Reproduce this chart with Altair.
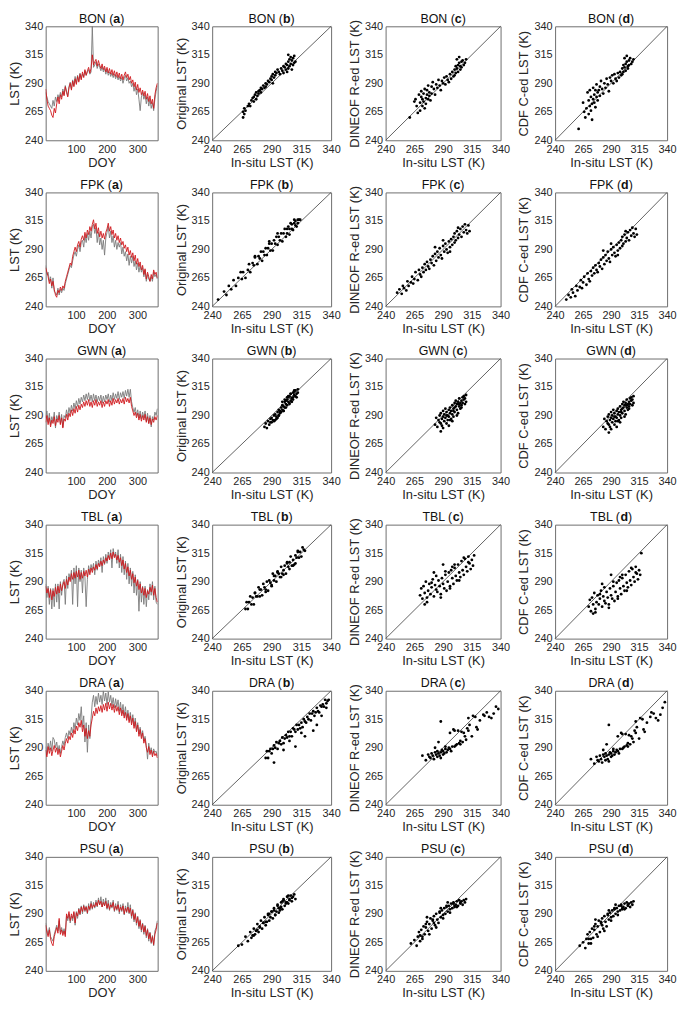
import altair as alt
import pandas as pd

SITES = ["BON", "FPK", "GWN", "TBL", "DRA", "PSU"]
DOY = list(range(1, 366, 4))

# ---------------- time series (grey = in-situ, red = reconstructed) ----------------
BON_GREY = [282, 278, 274, 272, 270, 268, 275, 270, 278, 274,
            280, 276, 282, 278, 285, 280, 288, 283, 279, 287,
            291, 285, 293, 288, 296, 290, 297, 292, 299, 294,
            298, 296, 301, 297, 300, 302, 298, 300, 340, 304,
            306, 309, 303, 307, 304, 301, 305, 300, 303, 298,
            302, 297, 300, 296, 299, 295, 298, 294, 297, 293,
            296, 292, 295, 290, 294, 297, 292, 295, 290, 292,
            287, 290, 283, 288, 280, 285, 276, 266, 278, 282,
            276, 280, 272, 278, 270, 276, 268, 273, 266, 276,
            283, 288]
BON_RED = [285, 276, 270, 268, 266, 262, 260, 268, 264, 272,
           278, 272, 280, 276, 283, 279, 287, 282, 278, 286,
           290, 284, 292, 287, 294, 289, 296, 291, 298, 293,
           300, 295, 302, 297, 301, 304, 299, 303, 315, 306,
           309, 311, 305, 310, 306, 303, 307, 302, 305, 300,
           304, 299, 303, 298, 302, 297, 301, 296, 300, 295,
           299, 294, 298, 293, 297, 300, 295, 298, 293, 296,
           290, 293, 287, 291, 284, 289, 282, 286, 280, 284,
           279, 283, 276, 281, 274, 279, 272, 276, 268, 280,
           286, 290]
FPK_GREY = [276, 268, 270, 262, 266, 256, 265, 253, 252, 250,
            256, 250, 255, 252, 256, 254, 260, 264, 268, 272,
            276, 274, 280, 285, 288, 284, 290, 294, 288, 296,
            298, 292, 302, 296, 304, 298, 306, 300, 310, 312,
            304, 309, 296, 305, 294, 300, 290, 298, 285, 300,
            305, 310, 300, 306, 296, 302, 292, 298, 290, 296,
            292, 296, 286, 292, 284, 288, 280, 286, 276, 284,
            278, 284, 275, 280, 272, 278, 270, 276, 270, 274,
            266, 272, 262, 268, 264, 262, 266, 262, 270, 266,
            268, 264]
FPK_RED = [274, 270, 266, 260, 264, 258, 262, 255, 250, 248,
           254, 252, 257, 254, 258, 256, 262, 266, 270, 274,
           278, 276, 284, 288, 292, 288, 294, 297, 292, 299,
           302, 298, 305, 300, 307, 303, 310, 306, 312, 316,
           308, 313, 304, 309, 301, 306, 300, 304, 299, 305,
           308, 313, 306, 310, 303, 307, 300, 304, 298, 302,
           296, 300, 294, 297, 291, 294, 288, 292, 285, 289,
           283, 287, 280, 285, 277, 282, 275, 279, 272, 276,
           268, 273, 264, 270, 266, 262, 268, 264, 272, 268,
           270, 265]
GWN_GREY = [288, 294, 284, 292, 282, 289, 285, 293, 279, 290,
            286, 293, 283, 291, 280, 290, 288, 295, 289, 297,
            292, 299, 294, 301, 296, 303, 298, 305, 300, 306,
            302, 308, 303, 309, 304, 310, 303, 308, 302, 309,
            303, 308, 302, 307, 303, 308, 301, 307, 302, 308,
            304, 309, 302, 308, 303, 310, 304, 309, 305, 311,
            304, 310, 306, 311, 305, 312, 307, 313, 306, 313,
            302, 297, 293, 297, 290, 295, 288, 294, 287, 293,
            288, 294, 285, 292, 283, 290, 280, 289, 286, 293,
            290, 296]
GWN_RED = [284, 290, 282, 288, 280, 286, 283, 289, 281, 287,
           284, 290, 282, 288, 279, 287, 285, 291, 286, 292,
           289, 295, 290, 296, 292, 298, 293, 299, 295, 300,
           297, 302, 298, 303, 299, 304, 298, 302, 297, 303,
           299, 304, 298, 302, 299, 303, 297, 302, 298, 303,
           300, 304, 298, 303, 299, 305, 300, 304, 301, 305,
           300, 304, 301, 305, 300, 306, 302, 305, 301, 306,
           298, 294, 290, 293, 288, 292, 286, 291, 285, 290,
           286, 291, 284, 289, 283, 288, 282, 287, 284, 289,
           286, 290]
TBL_GREY = [288, 276, 286, 270, 284, 266, 284, 268, 288, 272,
            288, 266, 290, 278, 289, 292, 270, 295, 284, 297,
            292, 300, 270, 302, 288, 304, 268, 302, 290, 300,
            280, 302, 294, 268, 292, 304, 298, 305, 300, 306,
            296, 308, 300, 309, 304, 311, 298, 312, 305, 314,
            306, 316, 310, 318, 302, 319, 312, 316, 306, 318,
            302, 314, 298, 312, 296, 308, 292, 306, 288, 302,
            286, 299, 280, 296, 278, 292, 264, 290, 272, 286,
            270, 286, 268, 283, 274, 288, 278, 290, 274, 286,
            272, 270]
TBL_RED = [286, 280, 284, 276, 283, 274, 282, 277, 285, 279,
           286, 280, 288, 282, 287, 290, 284, 292, 287, 294,
           290, 297, 292, 298, 293, 299, 294, 300, 292, 298,
           293, 299, 295, 300, 294, 301, 296, 302, 298, 303,
           300, 305, 301, 306, 303, 308, 304, 309, 306, 311,
           308, 313, 309, 315, 310, 316, 311, 314, 309, 313,
           307, 311, 304, 309, 301, 306, 298, 303, 295, 300,
           292, 297, 289, 294, 286, 291, 283, 288, 280, 285,
           278, 284, 276, 282, 279, 285, 281, 287, 278, 284,
           276, 272]
DRA_GREY = [291, 284, 294, 288, 296, 287, 299, 297, 290, 295,
            287, 292, 285, 291, 296, 292, 299, 303, 298, 305,
            301, 308, 303, 312, 306, 316, 310, 320, 314, 326,
            308, 318, 295, 312, 286, 310, 298, 316, 330, 336,
            326, 335, 328, 338, 330, 336, 328, 340, 331, 338,
            328, 339, 330, 336, 327, 334, 325, 333, 326, 332,
            322, 330, 320, 328, 318, 326, 316, 323, 314, 321,
            312, 319, 309, 316, 306, 312, 302, 308, 300, 305,
            296, 300, 292, 280, 294, 286, 290, 284, 289, 286,
            287, 283]
DRA_RED = [288, 282, 291, 285, 290, 283, 288, 292, 286, 290,
           284, 289, 282, 287, 292, 288, 294, 298, 294, 300,
           297, 303, 299, 306, 302, 309, 305, 312, 308, 314,
           304, 310, 300, 307, 298, 305, 300, 310, 316, 322,
           318, 325, 320, 326, 322, 327, 321, 328, 323, 329,
           322, 330, 324, 329, 323, 328, 321, 327, 322, 326,
           319, 325, 318, 323, 316, 321, 314, 320, 312, 318,
           310, 316, 307, 313, 304, 310, 300, 306, 298, 303,
           294, 298, 290, 286, 291, 284, 288, 282, 287, 283,
           285, 281]
PSU_GREY = [282, 276, 272, 278, 270, 268, 266, 272, 276, 280,
            275, 284, 274, 278, 273, 277, 272, 288, 284, 290,
            282, 288, 284, 291, 280, 292, 286, 295, 289, 297,
            290, 298, 292, 297, 290, 299, 293, 301, 294, 300,
            295, 302, 296, 304, 298, 305, 296, 303, 297, 304,
            294, 302, 293, 300, 295, 302, 292, 299, 293, 301,
            290, 298, 292, 299, 289, 297, 291, 300, 290, 298,
            286, 294, 283, 291, 280, 288, 277, 285, 274, 282,
            272, 280, 269, 277, 266, 274, 264, 271, 262, 275,
            278, 284]
PSU_RED = [280, 274, 270, 276, 268, 264, 262, 270, 274, 278,
           273, 286, 272, 276, 271, 275, 270, 290, 286, 292,
           284, 290, 286, 292, 282, 291, 288, 294, 290, 296,
           292, 297, 293, 296, 291, 297, 294, 299, 295, 298,
           296, 300, 297, 302, 298, 301, 296, 300, 297, 301,
           295, 299, 294, 298, 296, 300, 293, 297, 294, 298,
           292, 296, 293, 297, 290, 295, 292, 296, 291, 295,
           288, 293, 285, 290, 282, 287, 279, 284, 276, 281,
           274, 279, 271, 276, 268, 273, 265, 270, 263, 272,
           276, 282]

# ---------------- scatter: (b) original vs in-situ ----------------
BON_B_X = [266, 266, 267, 267, 268, 270, 271, 272, 273, 274, 275, 275, 276, 277, 277, 278, 279, 279, 280, 281,
           281, 282, 283, 284, 285, 285, 286, 287, 288, 289, 290, 290, 291, 291, 292, 293, 293, 294, 295, 296,
           297, 298, 299, 300, 300, 301, 302, 302, 303, 303, 304, 304, 305, 305, 306, 306, 307, 307, 308, 308,
           309, 309, 310, 304]
BON_B_Y = [260, 265, 263, 268, 266, 270, 272, 270, 275, 277, 274, 278, 280, 276, 282, 279, 283, 281, 284, 282,
           286, 285, 288, 286, 290, 287, 289, 292, 291, 294, 293, 296, 290, 298, 295, 297, 300, 299, 302, 300,
           298, 303, 301, 305, 299, 304, 307, 302, 306, 300, 309, 303, 311, 305, 313, 307, 310, 302, 312, 306,
           314, 308, 309, 315]
FPK_B_X = [245, 250, 252, 254, 256, 258, 260, 262, 264, 265, 266, 268, 270, 271, 272, 274, 275, 276, 278, 279,
           280, 281, 282, 283, 284, 285, 286, 287, 288, 289, 290, 291, 292, 293, 294, 295, 296, 297, 298, 299,
           300, 301, 302, 303, 303, 304, 305, 305, 306, 307, 307, 308, 309, 309, 310, 310, 311, 312, 312, 313,
           314, 295, 288, 276]
FPK_B_Y = [246, 253, 250, 258, 255, 263, 258, 265, 270, 264, 270, 265, 272, 277, 270, 278, 276, 283, 277, 284,
           282, 288, 280, 288, 285, 291, 285, 291, 295, 289, 295, 289, 298, 295, 301, 294, 301, 298, 304, 297,
           304, 308, 301, 308, 304, 310, 303, 308, 313, 308, 312, 307, 313, 316, 311, 315, 310, 316, 313, 316,
           316, 304, 297, 284]
GWN_B_X = [284, 285, 286, 287, 288, 289, 290, 290, 291, 292, 292, 293, 294, 294, 295, 295, 296, 296, 297, 297,
           298, 298, 299, 299, 300, 300, 301, 301, 302, 302, 303, 303, 304, 304, 305, 305, 306, 306, 307, 307,
           308, 308, 309, 309, 310, 310, 311, 311, 312, 312, 300, 302, 305, 308, 296, 293, 289, 303, 306, 309,
           299, 301, 304, 307]
GWN_B_Y = [280, 283, 279, 285, 282, 287, 284, 288, 286, 290, 285, 291, 289, 287, 293, 288, 295, 290, 294, 292,
           297, 293, 299, 295, 298, 294, 302, 297, 300, 303, 299, 304, 302, 306, 301, 307, 303, 309, 305, 302,
           310, 306, 308, 311, 307, 312, 309, 306, 313, 310, 294, 297, 300, 304, 290, 286, 284, 306, 309, 312,
           302, 304, 307, 305]
TBL_B_X = [268, 269, 270, 271, 272, 273, 274, 275, 276, 277, 278, 279, 280, 281, 282, 283, 284, 285, 286, 287,
           288, 289, 290, 291, 292, 293, 294, 295, 296, 297, 298, 299, 300, 301, 302, 303, 304, 305, 306, 307,
           308, 309, 310, 311, 312, 313, 314, 315, 316, 317, 318, 285, 290, 295, 300, 305, 310, 280, 298, 303,
           308, 276, 292, 312]
TBL_B_Y = [266, 272, 266, 272, 277, 270, 276, 270, 280, 277, 277, 285, 277, 283, 278, 288, 285, 283, 290, 282,
           291, 289, 287, 297, 291, 295, 290, 299, 297, 294, 303, 297, 300, 304, 297, 307, 303, 307, 312, 304,
           309, 305, 313, 311, 317, 311, 316, 312, 320, 318, 317, 281, 286, 298, 296, 301, 306, 283, 294, 306,
           304, 280, 295, 316]
DRA_B_X = [285, 286, 287, 288, 289, 290, 291, 292, 293, 294, 295, 296, 297, 298, 299, 300, 301, 302, 303, 304,
           305, 306, 307, 308, 309, 310, 311, 312, 313, 314, 315, 316, 317, 318, 319, 320, 321, 322, 323, 324,
           325, 326, 327, 328, 329, 330, 331, 332, 333, 334, 335, 336, 337, 338, 292, 300, 310, 318, 325, 328,
           305, 315, 332, 336]
DRA_B_Y = [281, 287, 281, 287, 289, 285, 289, 292, 290, 295, 289, 294, 296, 293, 299, 294, 298, 301, 299, 304,
           300, 304, 300, 307, 306, 304, 310, 306, 310, 307, 312, 308, 315, 313, 312, 317, 315, 320, 314, 320,
           322, 318, 321, 325, 322, 321, 327, 326, 328, 326, 332, 329, 331, 332, 277, 288, 291, 300, 305, 310,
           296, 303, 318, 325]
PSU_B_X = [262, 265, 268, 270, 272, 273, 274, 275, 276, 277, 278, 279, 280, 281, 282, 283, 284, 285, 286, 287,
           288, 289, 290, 291, 292, 293, 294, 295, 296, 297, 298, 299, 300, 301, 302, 303, 304, 305, 306, 307,
           308, 309, 310, 278, 283, 288, 293, 298, 303, 295, 300, 305, 290, 285, 280, 275, 297, 302, 307, 299,
           304, 296, 292, 287]
PSU_B_Y = [262, 263, 270, 266, 274, 269, 271, 277, 272, 275, 281, 274, 279, 284, 277, 282, 287, 280, 283, 290,
           284, 287, 292, 286, 295, 289, 292, 297, 291, 295, 300, 294, 302, 297, 300, 305, 299, 303, 306, 301,
           305, 307, 303, 276, 282, 290, 289, 296, 300, 298, 303, 302, 292, 283, 278, 271, 293, 299, 304, 301,
           306, 295, 293, 289]

# ---------------- scatter: (c) DINEOF and (d) CDF vs in-situ (same days) ----------------
BON_CD_X = [261, 265, 266, 267, 268, 269, 270, 270, 271, 271, 272, 272, 273, 273, 274, 274, 275, 275, 276, 276,
            277, 277, 278, 278, 279, 280, 280, 281, 282, 283, 284, 285, 286, 287, 288, 289, 290, 291, 292, 293,
            294, 295, 296, 297, 298, 299, 300, 300, 301, 301, 302, 302, 303, 303, 304, 304, 305, 305, 306, 306,
            307, 308, 309, 310]
BON_C_Y = [260, 274, 276, 270, 264, 280, 273, 266, 278, 283, 270, 276, 281, 274, 268, 285, 277, 272, 280, 284,
           276, 288, 279, 282, 275, 287, 281, 291, 285, 280, 289, 286, 293, 288, 284, 292, 290, 295, 289, 296,
           293, 291, 298, 294, 300, 296, 302, 297, 305, 299, 303, 311, 306, 300, 308, 313, 305, 302, 309, 304,
           310, 306, 308, 311]
BON_D_Y = [250, 273, 265, 260, 268, 282, 275, 263, 270, 284, 266, 278, 272, 258, 276, 286, 273, 280, 269, 284,
           278, 289, 275, 282, 284, 287, 279, 292, 285, 281, 290, 286, 294, 289, 283, 295, 292, 297, 290, 298,
           294, 292, 299, 295, 300, 297, 303, 298, 306, 300, 304, 312, 307, 301, 309, 314, 305, 303, 310, 306,
           312, 307, 309, 311]
FPK_CD_X = [250, 252, 254, 255, 256, 258, 259, 260, 262, 263, 264, 265, 266, 268, 269, 270, 271, 272, 273, 274,
            275, 276, 277, 278, 279, 280, 281, 282, 283, 284, 285, 286, 287, 288, 289, 290, 291, 292, 293, 294,
            295, 296, 297, 298, 299, 300, 300, 301, 302, 303, 304, 305, 306, 307, 308, 309, 310, 311, 312, 313,
            283, 290, 296, 303]
FPK_C_Y = [252, 255, 251, 258, 256, 254, 262, 258, 261, 266, 260, 264, 270, 263, 272, 268, 266, 274, 270, 277,
           272, 279, 275, 273, 281, 278, 284, 276, 286, 280, 288, 283, 291, 285, 282, 293, 288, 295, 290, 287,
           297, 292, 299, 294, 301, 296, 304, 298, 306, 300, 303, 308, 301, 310, 305, 312, 307, 304, 311, 306,
           292, 298, 288, 309]
FPK_D_Y = [246, 250, 248, 255, 252, 249, 258, 254, 257, 263, 256, 261, 266, 259, 269, 264, 262, 271, 267, 274,
           269, 276, 272, 270, 278, 275, 281, 273, 283, 277, 285, 280, 288, 282, 279, 290, 285, 292, 287, 284,
           294, 289, 296, 291, 298, 293, 301, 295, 303, 297, 300, 305, 298, 307, 302, 309, 304, 301, 308, 303,
           289, 295, 285, 306]
GWN_CD_X = [283, 284, 285, 286, 287, 287, 288, 288, 289, 289, 290, 290, 291, 291, 292, 292, 293, 293, 294, 294,
            295, 295, 296, 296, 297, 297, 298, 298, 299, 299, 300, 300, 301, 301, 302, 302, 303, 303, 304, 304,
            305, 305, 306, 306, 307, 307, 308, 308, 309, 309, 310, 310, 296, 300, 304, 290, 293, 298, 302, 306,
            288, 295, 299, 303]
GWN_C_Y = [282, 288, 280, 286, 290, 284, 283, 292, 287, 281, 289, 294, 285, 291, 288, 296, 283, 293, 290, 286,
           295, 289, 292, 297, 287, 294, 291, 299, 296, 289, 301, 293, 298, 303, 295, 300, 292, 302, 298, 305,
           301, 296, 303, 299, 306, 301, 304, 307, 300, 305, 308, 302, 286, 297, 300, 279, 290, 285, 290, 297,
           276, 281, 294, 300]
GWN_D_Y = [280, 287, 278, 285, 289, 283, 282, 291, 286, 280, 288, 293, 284, 290, 287, 295, 282, 292, 289, 285,
           294, 288, 291, 296, 286, 293, 290, 298, 295, 288, 300, 292, 297, 302, 294, 299, 291, 301, 297, 304,
           300, 295, 302, 298, 305, 300, 303, 306, 299, 304, 307, 301, 285, 296, 299, 278, 289, 284, 289, 296,
           275, 280, 293, 299]
TBL_CD_X = [270, 271, 272, 273, 274, 275, 276, 277, 278, 279, 280, 281, 282, 283, 284, 285, 286, 287, 288, 289,
            290, 291, 292, 293, 294, 295, 296, 297, 298, 299, 300, 301, 302, 303, 304, 305, 306, 307, 308, 309,
            310, 311, 312, 313, 314, 315, 316, 317, 276, 280, 284, 288, 292, 296, 300, 304, 308, 312, 274, 282,
            290, 298]
TBL_C_Y = [278, 284, 275, 286, 280, 290, 276, 282, 288, 279, 285, 292, 277, 287, 283, 281, 291, 286, 279, 293,
           288, 284, 296, 282, 290, 298, 286, 300, 293, 288, 302, 295, 291, 305, 298, 294, 308, 300, 296, 310,
           303, 299, 312, 306, 301, 309, 304, 313, 272, 289, 295, 276, 299, 284, 305, 291, 311, 307, 270, 298,
           305, 303]
TBL_D_Y = [268, 274, 264, 276, 270, 280, 266, 272, 278, 270, 275, 282, 268, 277, 273, 271, 281, 276, 270, 284,
           278, 275, 286, 273, 281, 289, 277, 291, 284, 279, 293, 286, 282, 296, 289, 285, 299, 291, 287, 301,
           294, 290, 303, 297, 292, 300, 296, 315, 263, 279, 285, 267, 290, 275, 296, 282, 302, 298, 262, 288,
           296, 294]
DRA_CD_X = [272, 275, 277, 278, 279, 280, 281, 282, 283, 284, 285, 285, 286, 287, 288, 288, 289, 290, 290, 291,
            292, 293, 294, 295, 296, 297, 298, 299, 300, 301, 302, 303, 304, 305, 306, 307, 308, 310, 311, 312,
            313, 315, 316, 318, 319, 320, 322, 325, 328, 330, 332, 334, 336, 338, 288, 286, 283, 292, 296, 300,
            305, 309, 312, 326]
DRA_C_Y = [283, 279, 284, 282, 281, 285, 283, 280, 286, 284, 282, 287, 285, 283, 286, 281, 288, 284, 287, 285,
           289, 286, 288, 290, 303, 287, 291, 306, 305, 292, 293, 305, 294, 296, 304, 295, 303, 297, 307, 316,
           310, 300, 318, 317, 308, 306, 314, 319, 321, 317, 316, 320, 326, 324, 313, 295, 290, 291, 289, 291,
           293, 300, 305, 318]
DRA_D_Y = [280, 276, 282, 279, 278, 283, 280, 277, 284, 282, 279, 285, 283, 280, 284, 278, 286, 282, 285, 283,
           287, 284, 286, 288, 300, 285, 289, 303, 302, 290, 291, 302, 292, 294, 301, 293, 300, 295, 305, 313,
           308, 298, 316, 315, 306, 304, 312, 317, 320, 316, 314, 319, 325, 330, 310, 293, 288, 289, 287, 289,
           291, 298, 303, 321]
PSU_CD_X = [262, 265, 267, 268, 269, 270, 271, 272, 273, 274, 275, 276, 277, 278, 279, 280, 281, 282, 283, 284,
            285, 286, 287, 288, 289, 290, 291, 292, 293, 294, 295, 296, 297, 298, 299, 300, 301, 302, 303, 304,
            305, 306, 307, 308, 309, 310, 272, 275, 278, 281, 284, 287, 290, 293, 296, 299, 302, 305, 270, 276,
            282, 288, 294, 300]
PSU_C_Y = [264, 267, 262, 270, 274, 266, 276, 270, 279, 272, 278, 283, 275, 281, 286, 277, 284, 288, 280, 290,
           285, 282, 291, 287, 293, 289, 295, 290, 296, 292, 297, 294, 299, 295, 300, 296, 298, 301, 297, 302,
           299, 301, 298, 302, 300, 303, 268, 281, 272, 285, 278, 292, 286, 297, 291, 299, 296, 300, 271, 287,
           282, 295, 300, 297]
PSU_D_Y = [262, 265, 260, 268, 272, 264, 274, 268, 277, 269, 276, 281, 272, 279, 284, 274, 282, 286, 277, 288,
           283, 279, 289, 285, 291, 287, 293, 288, 294, 290, 295, 292, 297, 293, 298, 294, 296, 299, 295, 300,
           297, 299, 296, 300, 298, 301, 264, 279, 270, 283, 275, 290, 284, 295, 289, 297, 294, 298, 268, 285,
           280, 293, 298, 295]

TS = {"BON": (BON_GREY, BON_RED), "FPK": (FPK_GREY, FPK_RED), "GWN": (GWN_GREY, GWN_RED),
      "TBL": (TBL_GREY, TBL_RED), "DRA": (DRA_GREY, DRA_RED), "PSU": (PSU_GREY, PSU_RED)}
SB = {"BON": (BON_B_X, BON_B_Y), "FPK": (FPK_B_X, FPK_B_Y), "GWN": (GWN_B_X, GWN_B_Y),
      "TBL": (TBL_B_X, TBL_B_Y), "DRA": (DRA_B_X, DRA_B_Y), "PSU": (PSU_B_X, PSU_B_Y)}
SCD = {"BON": (BON_CD_X, BON_C_Y, BON_D_Y), "FPK": (FPK_CD_X, FPK_C_Y, FPK_D_Y),
       "GWN": (GWN_CD_X, GWN_C_Y, GWN_D_Y), "TBL": (TBL_CD_X, TBL_C_Y, TBL_D_Y),
       "DRA": (DRA_CD_X, DRA_C_Y, DRA_D_Y), "PSU": (PSU_CD_X, PSU_C_Y, PSU_D_Y)}

LST_TICKS = [240, 265, 290, 315, 340]
DOY_TICKS = [100, 200, 300]
YTITLES = {"b": "Original LST (K)", "c": "DINEOF R-ed LST (K)", "d": "CDF C-ed LST (K)"}

FONT = "Liberation Sans"
TXT = "#262626"
WIDTHS = {"a": 113, "b": 120, "c": 116, "d": 113}
H = 115
TFS = 12.5

CW = {"B": .667, "O": .778, "N": .722, "F": .611, "P": .667, "K": .667, "G": .778, "W": .944,
      "T": .611, "L": .556, "D": .722, "R": .722, "A": .667, "S": .667, "U": .722, " ": .278,
      "(": .333, ")": .333}
BW = {"a": .556, "b": .611, "c": .556, "d": .611}


def axis(values, title):
    return alt.Axis(values=values, title=title, titleFontWeight="normal", labelOverlap=False,
                    labelFlush=False, labelFontWeight="normal", labelSeparation=0, labelBound=False)


def title_layers(site, letter, width):
    pre = site + " ("
    wpre = sum(CW[ch] for ch in pre) * TFS
    wb = BW[letter] * TFS
    wc = CW[")"] * TFS
    x0 = width / 2 - (wpre + wb + wc) / 2
    one = alt.Chart(pd.DataFrame({"k": [0]}))
    common = dict(align="left", baseline="alphabetic", font=FONT, fontSize=TFS, color="#111111")
    t1 = one.mark_text(text=pre, fontWeight="normal", **common).encode(x=alt.value(x0), y=alt.value(-3.5))
    t2 = one.mark_text(text=letter, fontWeight="bold", **common).encode(x=alt.value(x0 + wpre), y=alt.value(-3.5))
    t3 = one.mark_text(text=")", fontWeight="normal", **common).encode(x=alt.value(x0 + wpre + wb), y=alt.value(-3.5))
    return [t1, t2, t3]


def lst_scale():
    return alt.Scale(domain=[240, 340], nice=False, zero=False)


def ts_panel(site):
    grey, red = TS[site]
    dg = pd.DataFrame({"doy": DOY[:len(grey)], "lst": grey[:len(DOY)]})
    dr = pd.DataFrame({"doy": DOY[:len(red)], "lst": red[:len(DOY)]})
    xenc = alt.X("doy:Q", scale=alt.Scale(domain=[1, 366], nice=False, zero=False), axis=axis(DOY_TICKS, "DOY"))
    yenc = alt.Y("lst:Q", scale=lst_scale(), axis=axis(LST_TICKS, "LST (K)"))
    lg = alt.Chart(dg).mark_line(color="#7a7a7a", strokeWidth=0.9, clip=True).encode(x=xenc, y=yenc)
    lr = alt.Chart(dr).mark_line(color="#d0181c", strokeWidth=0.9, clip=True).encode(x=xenc, y=yenc)
    return alt.layer(lg, lr, *title_layers(site, "a", WIDTHS["a"])).properties(width=WIDTHS["a"], height=H)


def sc_panel(site, letter, xs, ys):
    d = pd.DataFrame([{"x": a, "y": b} for a, b in zip(xs, ys)])
    xenc = alt.X("x:Q", scale=lst_scale(), axis=axis(LST_TICKS, "In-situ LST (K)"))
    yenc = alt.Y("y:Q", scale=lst_scale(), axis=axis(LST_TICKS, YTITLES[letter]))
    diag = alt.Chart(pd.DataFrame({"x": [240, 340], "y": [240, 340]})).mark_line(
        color="#3a3a3a", strokeWidth=0.8).encode(x=xenc, y=yenc)
    pts = alt.Chart(d).mark_circle(size=8, color="#000000", opacity=1).encode(x=xenc, y=yenc)
    w = WIDTHS[letter]
    return alt.layer(diag, pts, *title_layers(site, letter, w)).properties(width=w, height=H)


panels = []
for s in SITES:
    cx, cy, dy = SCD[s]
    panels += [ts_panel(s), sc_panel(s, "b", *SB[s]), sc_panel(s, "c", cx, cy), sc_panel(s, "d", cx, dy)]

chart = alt.concat(
    *panels, columns=4, spacing=alt.RowColnumber(row=52.6, column=55), bounds="flush"
).properties(padding=0, background="white").configure_axis(
    labelFont=FONT, labelFontSize=11, labelColor=TXT, titleFont=FONT, titleFontSize=13,
    titleFontWeight="normal", titleColor=TXT, grid=False, domain=False, ticks=False,
    labelPadding=3, labelFlush=False, labelOverlap=False
).configure_axisX(titlePadding=2).configure_axisY(titlePadding=3).configure_view(
    stroke="#6e6e6e", strokeWidth=1
)

chart.save("out.html", embed_options={"renderer": "svg", "actions": False})
